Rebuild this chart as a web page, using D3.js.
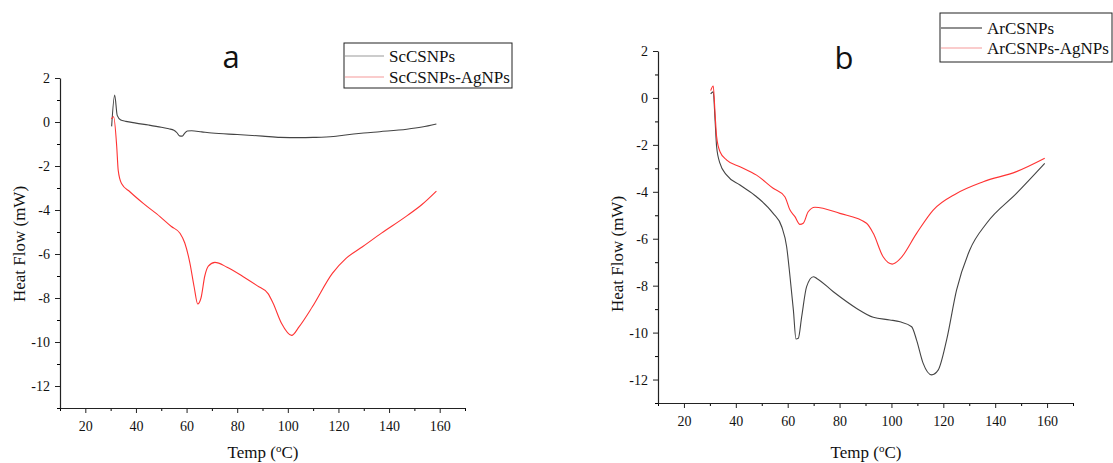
<!DOCTYPE html>
<html>
<head>
<meta charset="utf-8">
<script src="https://cdn.jsdelivr.net/npm/d3@7"></script>
<style>
  body { margin: 0; background: #fff; }
  text { font-family: "Liberation Serif", "Times New Roman", serif; fill: #111; }
  .title { font-family: "Open Sans", "Liberation Sans", sans-serif; }
</style>
</head>
<body>
<div id="chart"></div>
<script>
// DSC curves: [temperature (oC), heat flow (mW)]
var scTemp  = [30.4, 31.6, 32.6, 34, 36, 40, 45, 50, 53, 55, 56.3, 57.2, 58.3, 59.2, 60.3, 62, 66, 70, 80, 90, 97, 104.5, 110, 118, 122, 130, 136.3, 147, 153, 158.7];
var scFlow  = [-0.2, 1.23, 0.3, 0.09, 0.03, -0.05, -0.14, -0.24, -0.31, -0.37, -0.5, -0.63, -0.64, -0.52, -0.41, -0.4, -0.45, -0.5, -0.57, -0.64, -0.7, -0.71, -0.7, -0.66, -0.6, -0.5, -0.44, -0.33, -0.23, -0.09];

var scAgTemp = [30.3, 31.2, 32.4, 33, 34.3, 37.6, 42.9, 49.5, 54, 57.4, 59.3, 61.3, 63, 64.4, 65.7, 67.2, 68.6, 71.2, 76, 82.4, 88, 92.2, 94.2, 97.5, 101.5, 104.5, 109.7, 117.6, 123, 129.5, 137, 146.6, 153, 158.7];
var scAgFlow = [0.14, 0.24, -1.1, -2.2, -2.8, -3.17, -3.7, -4.3, -4.75, -5.06, -5.5, -6.4, -7.5, -8.27, -8.0, -7.0, -6.55, -6.38, -6.6, -7.03, -7.45, -7.8, -8.24, -9.15, -9.7, -9.3, -8.4, -6.88, -6.2, -5.67, -5.05, -4.3, -3.75, -3.14];

var arTemp = [30.3, 31.3, 32, 32.6, 33.9, 36.5, 41.6, 48, 54.4, 57.7, 59.6, 60.9, 62.2, 63.2, 64.1, 65.4, 67.3, 69.9, 71.2, 77.6, 86.6, 93, 99.4, 103.3, 107.8, 109.7, 112.2, 115.5, 118, 121.3, 125.1, 130.2, 136.7, 148.2, 159.1];
var arFlow = [0.17, 0.26, -0.94, -2.08, -2.79, -3.29, -3.71, -4.21, -4.92, -5.49, -6.34, -7.62, -9.04, -10.27, -10.24, -9.32, -8.04, -7.62, -7.69, -8.26, -8.97, -9.35, -9.46, -9.54, -9.75, -10.32, -11.3, -11.8, -11.6, -10.3, -8.19, -6.48, -5.34, -4.07, -2.79];

var arAgTemp = [30.3, 31.3, 32, 32.6, 33.9, 36.5, 41.6, 48, 54.4, 58.9, 60.9, 62.8, 64.7, 66, 67.9, 70.5, 80.1, 90.4, 93, 96.8, 100.3, 103.3, 109.7, 116.1, 125.1, 135.4, 148.2, 159.1];
var arAgFlow = [0.31, 0.51, -0.66, -1.65, -2.29, -2.65, -2.93, -3.29, -3.85, -4.21, -4.78, -5.06, -5.39, -5.34, -4.85, -4.66, -4.92, -5.34, -5.77, -6.77, -7.08, -6.86, -5.77, -4.78, -4.07, -3.57, -3.14, -2.57];

var xTicks = [20, 40, 60, 80, 100, 120, 140, 160];
var yTicks = [2, 0, -2, -4, -6, -8, -10, -12];

var svg = d3.select("#chart").append("svg")
  .attr("width", 1113)
  .attr("height", 463);

function zip(t, f) {
  return t.map(function(d, i) { return {t: d, f: f[i]}; });
}

function drawPanel(p) {
  var x = d3.scaleLinear().domain([10, 170]).range([p.left, p.right]);
  var y = d3.scaleLinear().domain([-13, 2]).range([p.bottom, p.top]);

  // minor ticks first, then major axis with labels
  var xMinor = d3.range(10, 171, 10).filter(function(d) { return xTicks.indexOf(d) < 0; });
  var yMinor = d3.range(-13, 2, 1).filter(function(d) { return yTicks.indexOf(d) < 0; });

  svg.append("g")
    .attr("transform", "translate(0," + p.bottom + ")")
    .call(d3.axisBottom(x).tickValues(xMinor).tickSize(3).tickFormat(""))
    .call(function(g) { g.select(".domain").remove(); });
  svg.append("g")
    .attr("transform", "translate(" + p.left + ",0)")
    .call(d3.axisLeft(y).tickValues(yMinor).tickSize(3).tickFormat(""))
    .call(function(g) { g.select(".domain").remove(); });

  var gx = svg.append("g")
    .attr("transform", "translate(0," + p.bottom + ")")
    .call(d3.axisBottom(x).tickValues(xTicks).tickSize(5).tickSizeOuter(0).tickPadding(8));
  var gy = svg.append("g")
    .attr("transform", "translate(" + p.left + ",0)")
    .call(d3.axisLeft(y).tickValues(yTicks).tickSize(5).tickSizeOuter(0).tickPadding(5)
      .tickFormat(function(d) { return d < 0 ? "-" + Math.abs(d) : d; }));

  [gx, gy].forEach(function(g) {
    g.attr("font-family", "'Liberation Serif', serif").attr("font-size", 14);
    g.selectAll("text").style("font-family", "'Liberation Serif', serif").style("font-size", "14px").attr("fill", "#111");
    g.selectAll("line").attr("stroke", "#222");
    g.select(".domain").attr("stroke", "#222").attr("stroke-width", 1.2);
  });

  // axis titles
  var xt = svg.append("text")
    .attr("x", p.xLabelX)
    .attr("y", p.xLabelY)
    .attr("text-anchor", "middle")
    .style("font-size", "17px");
  xt.append("tspan").text("Temp (");
  xt.append("tspan").attr("dy", -6).style("font-size", "11px").text("o");
  xt.append("tspan").attr("dy", 6).text("C)");

  svg.append("text")
    .attr("transform", "translate(" + p.yLabelX + "," + p.yLabelY + ") rotate(-90)")
    .attr("text-anchor", "middle")
    .style("font-size", "17px")
    .text("Heat Flow (mW)");

  svg.append("text")
    .attr("class", "title")
    .attr("x", p.titleX)
    .attr("y", p.titleY)
    .attr("text-anchor", "middle")
    .style("font-size", "31px")
    .text(p.title);

  var line = d3.line()
    .x(function(d) { return x(d.t); })
    .y(function(d) { return y(d.f); })
    .curve(d3.curveMonotoneX);

  p.series.forEach(function(s) {
    svg.append("path")
      .datum(zip(s.t, s.f))
      .attr("fill", "none")
      .attr("stroke", s.color)
      .attr("stroke-width", 1.1)
      .attr("d", line);
  });

  // legend
  var lg = p.legend;
  svg.append("rect")
    .attr("x", lg.x).attr("y", lg.y)
    .attr("width", lg.w).attr("height", lg.h)
    .attr("fill", "#fff")
    .attr("stroke", "#222")
    .attr("stroke-width", 1);
  p.series.forEach(function(s, i) {
    var cy = lg.y + lg.row0 + i * lg.step;
    svg.append("line")
      .attr("x1", lg.x + 1).attr("x2", lg.x + lg.sw)
      .attr("y1", cy).attr("y2", cy)
      .attr("stroke", s.legendColor)
      .attr("stroke-width", 1.2);
    svg.append("text")
      .attr("x", lg.x + lg.sw + 5)
      .attr("y", cy + 6)
      .style("font-size", "17px")
      .text(s.name);
  });
}

drawPanel({
  left: 60, right: 465, top: 78, bottom: 408,
  xLabelX: 263, xLabelY: 458, yLabelX: 25, yLabelY: 244,
  title: "a", titleX: 231, titleY: 68,
  legend: {x: 344, y: 43, w: 168, h: 45, row0: 13, step: 21, sw: 40},
  series: [
    {name: "ScCSNPs", t: scTemp, f: scFlow, color: "#444", legendColor: "#999"},
    {name: "ScCSNPs-AgNPs", t: scAgTemp, f: scAgFlow, color: "#f33", legendColor: "#f59a9a"}
  ]
});

drawPanel({
  left: 658, right: 1073, top: 51, bottom: 403,
  xLabelX: 866, xLabelY: 458, yLabelX: 623, yLabelY: 254,
  title: "b", titleX: 844, titleY: 69,
  legend: {x: 940, y: 13, w: 172, h: 49, row0: 15, step: 20, sw: 42},
  series: [
    {name: "ArCSNPs", t: arTemp, f: arFlow, color: "#444", legendColor: "#222"},
    {name: "ArCSNPs-AgNPs", t: arAgTemp, f: arAgFlow, color: "#f33", legendColor: "#f59a9a"}
  ]
});
</script>
</body>
</html>
